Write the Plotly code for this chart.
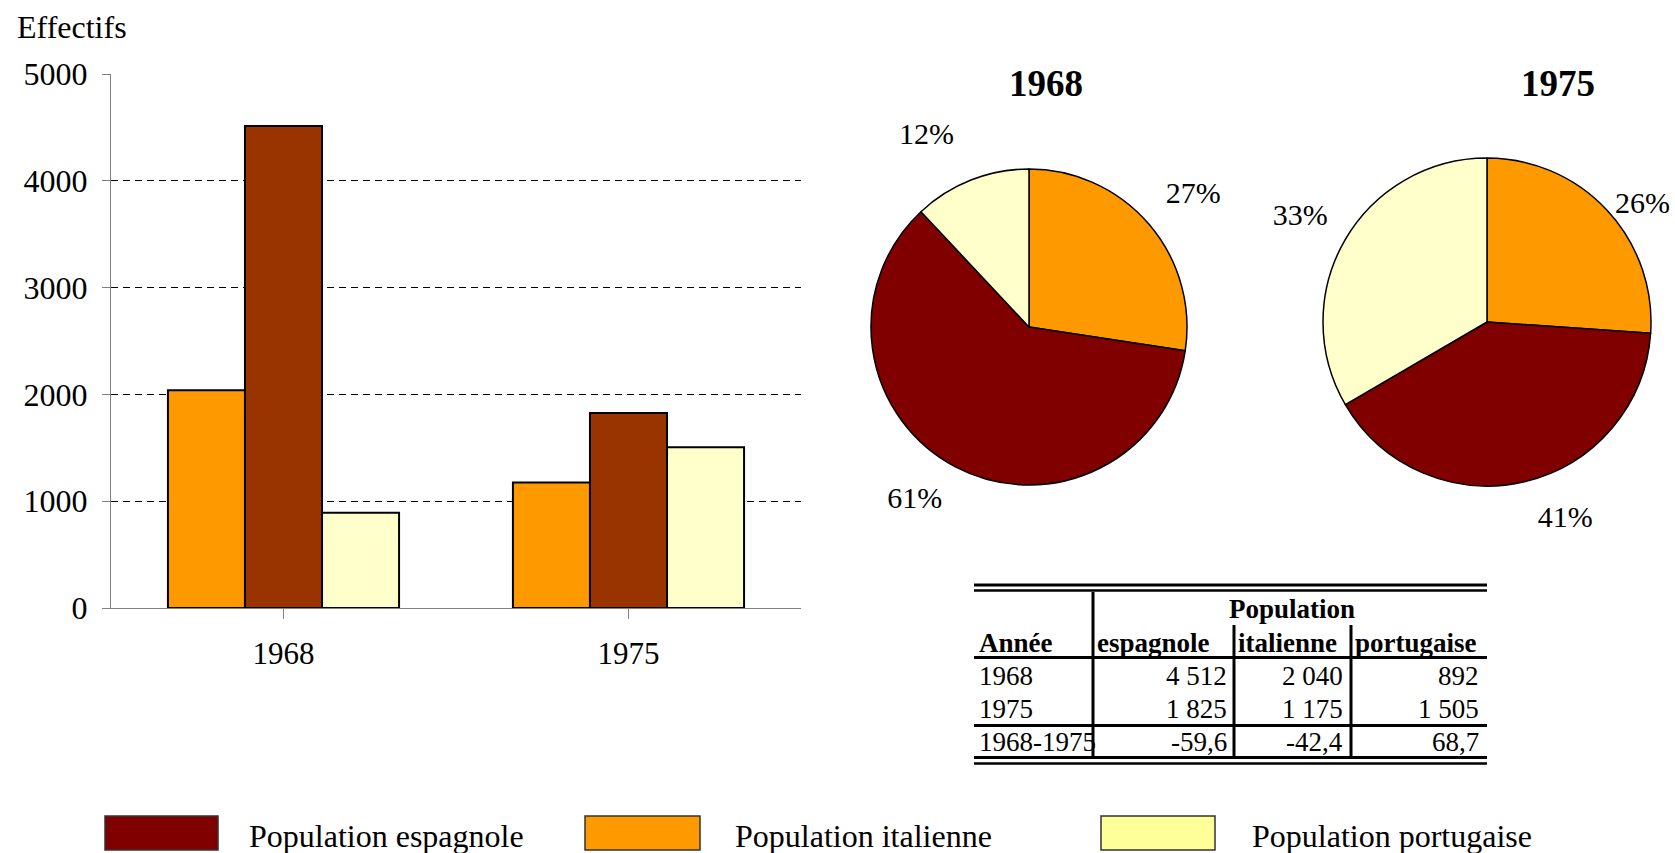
import plotly.graph_objects as go

# ---------------- data ----------------
years = ["1968", "1975"]
pop_espagnole = [4512, 1825]
pop_italienne = [2040, 1175]
pop_portugaise = [892, 1505]
variation = [-59.6, -42.4, 68.7]   # % change 1968-1975 (esp, ita, por)
y_ticks = [0, 1000, 2000, 3000, 4000, 5000]

series_names = ["Population espagnole", "Population italienne", "Population portugaise"]
col_esp = "#800000"
col_esp_bar = "#993300"
col_ita = "#FF9900"
col_por = "#FFFFCC"
col_por_leg = "#FFFF99"

W, H = 1675, 853
FONT = "Liberation Serif"


def px(x):
    return x / W


def py(y):
    return 1 - y / H


fig = go.Figure()

# ---------------- bar chart ----------------
bar_line = dict(color="black", width=2)
fig.add_trace(go.Bar(x=years, y=pop_italienne, name=series_names[1],
                     marker=dict(color=col_ita, line=bar_line), showlegend=False))
fig.add_trace(go.Bar(x=years, y=pop_espagnole, name=series_names[0],
                     marker=dict(color=col_esp_bar, line=bar_line), showlegend=False))
fig.add_trace(go.Bar(x=years, y=pop_portugaise, name=series_names[2],
                     marker=dict(color=col_por, line=bar_line), showlegend=False))

# ---------------- pies ----------------
pie_labels = ["italienne", "espagnole", "portugaise"]
pie_colors = [col_ita, col_esp, col_por]
pie_domains = [
    dict(x=[px(1029 - 158), px(1029 + 158)], y=[py(327 + 158), py(327 - 158)]),
    dict(x=[px(1487 - 164), px(1487 + 164)], y=[py(322 + 164), py(322 - 164)]),
]
SP = "<span style='font-size:9px'> </span>"
plain = "%{percent:.0%}"
above = plain + "<br>" + SP      # label pushed away from pie (upwards)
below = SP + "<br>" + plain      # label pushed away from pie (downwards)
pie_templates = [[above, below, above], [plain, below, above]]
for i, yr in enumerate(years):
    fig.add_trace(go.Pie(
        labels=pie_labels,
        values=[pop_italienne[i], pop_espagnole[i], pop_portugaise[i]],
        sort=False, direction="clockwise", rotation=0,
        marker=dict(colors=pie_colors, line=dict(color="black", width=1.5)),
        texttemplate=pie_templates[i], textposition="outside",
        textfont=dict(family=FONT, size=30, color="black"),
        domain=pie_domains[i], showlegend=False, name=yr,
    ))

annotations = []
shapes = []

# pie titles
for yr, cx in zip(years, [1046, 1558]):
    annotations.append(dict(x=px(cx), y=py(83), xref="paper", yref="paper",
                            text=f"<b>{yr}</b>", showarrow=False,
                            font=dict(family=FONT, size=37, color="black"),
                            xanchor="center", yanchor="middle"))

# y axis title
annotations.append(dict(x=px(15), y=py(27), xref="paper", yref="paper",
                        text="Effectifs", showarrow=False,
                        font=dict(family=FONT, size=32, color="black"),
                        xanchor="left", yanchor="middle"))

# ---------------- table ----------------
def fmt_int(v):
    return f"{v:,}".replace(",", " ")


def fmt_dec(v):
    return f"{v:.1f}".replace(".", ",")


TF = 27
tl, tr = 974, 1487
v1, v2, v3 = 1093, 1234, 1351


def hline(y, w, x0=tl, x1=tr):
    shapes.append(dict(type="line", xref="paper", yref="paper",
                       x0=px(x0), x1=px(x1), y0=py(y), y1=py(y),
                       line=dict(color="black", width=w)))


def vline(x, y0, y1, w=3):
    shapes.append(dict(type="line", xref="paper", yref="paper",
                       x0=px(x), x1=px(x), y0=py(y0), y1=py(y1),
                       line=dict(color="black", width=w)))


hline(585, 3)
hline(590.5, 2.5)
hline(657.5, 3)
hline(725.5, 3)
hline(757.5, 3)
hline(763.5, 2.5)
vline(v1, 592, 756)
vline(v2, 625, 756)
vline(v3, 625, 756)


def txt(x, y, s, anchor="left", bold=False):
    annotations.append(dict(x=px(x), y=py(y), xref="paper", yref="paper",
                            text=f"<b>{s}</b>" if bold else s, showarrow=False,
                            font=dict(family=FONT, size=TF, color="black"),
                            xanchor=anchor, yanchor="middle"))


txt(1292, 609, "Population", "center", True)
txt(977, 643, "Année", bold=True)
txt(1095, 643, "espagnole", bold=True)
txt(1236, 643, "italienne", bold=True)
txt(1353, 643, "portugaise", bold=True)

row_y = [676, 709]
for i, yr in enumerate(years):
    txt(977, row_y[i], yr)
    txt(1229, row_y[i], fmt_int(pop_espagnole[i]), "right")
    txt(1345, row_y[i], fmt_int(pop_italienne[i]), "right")
    txt(1481, row_y[i], fmt_int(pop_portugaise[i]), "right")
txt(977, 742, f"{years[0]}-{years[1]}")
txt(1229, 742, fmt_dec(variation[0]), "right")
txt(1345, 742, fmt_dec(variation[1]), "right")
txt(1481, 742, fmt_dec(variation[2]), "right")

# ---------------- legend (manual) ----------------
leg_colors = [col_esp, col_ita, col_por_leg]
leg_x = [(105, 218, 247), (585, 700, 733), (1101, 1215, 1250)]
for name, c, (x0, x1, xt) in zip(series_names, leg_colors, leg_x):
    shapes.append(dict(type="rect", xref="paper", yref="paper",
                       x0=px(x0), x1=px(x1), y0=py(850), y1=py(816),
                       fillcolor=c, line=dict(color="#333333", width=1.5)))
    annotations.append(dict(x=px(xt), y=py(836), xref="paper", yref="paper",
                            text=name, showarrow=False,
                            font=dict(family=FONT, size=32, color="black"),
                            xanchor="left", yanchor="middle"))

fig.update_layout(
    template="none",
    width=W, height=H,
    margin=dict(l=0, r=0, t=0, b=0),
    paper_bgcolor="white", plot_bgcolor="white",
    barmode="group", bargap=0.33, bargroupgap=0,
    font=dict(family=FONT, color="black"),
    showlegend=False,
    xaxis=dict(domain=[px(111), px(801)], showline=True, linecolor="#808080", linewidth=1,
               ticks="outside", tickson="boundaries", ticklen=10, tickcolor="#808080",
               tickfont=dict(family=FONT, size=31, color="black"),
               ticklabelstandoff=8, showgrid=False, automargin=False, fixedrange=True),
    yaxis=dict(domain=[py(608), py(74)], range=[0, 5000], tickvals=y_ticks,
               showline=True, linecolor="#808080", linewidth=1,
               ticks="outside", ticklen=8, tickcolor="#808080",
               tickfont=dict(family=FONT, size=32, color="black"),
               ticklabelstandoff=8,
               showgrid=True, gridcolor="black", gridwidth=1, griddash="7px,5px",
               zeroline=False, automargin=False, fixedrange=True),
    annotations=annotations,
    shapes=shapes,
)

fig.write_html("out.html", config={"displayModeBar": False},
               post_script="document.body.style.margin='0px';document.body.style.overflow='hidden';")
